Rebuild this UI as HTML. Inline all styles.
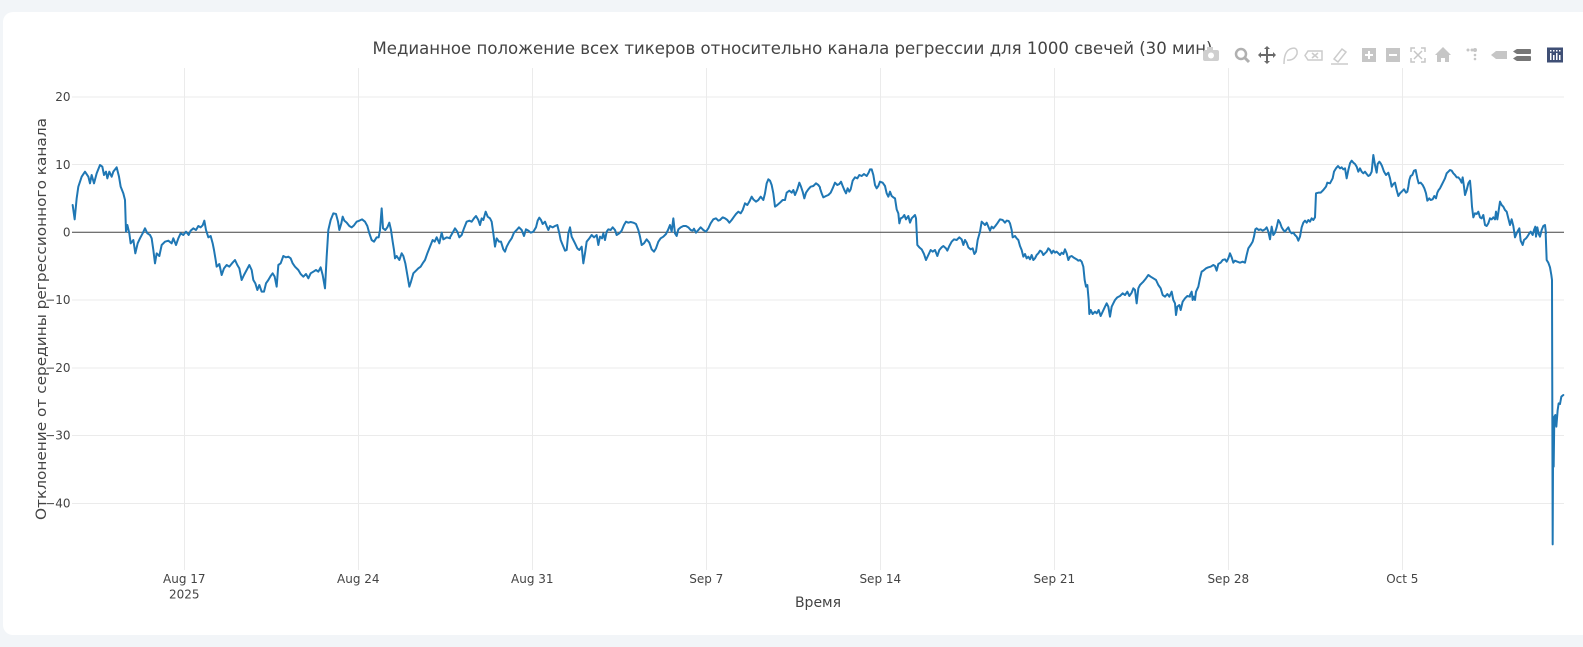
<!DOCTYPE html>
<html>
<head>
<meta charset="utf-8">
<style>
html,body{margin:0;padding:0;}
body{width:1583px;height:647px;background:#f2f5f8;position:relative;overflow:hidden;font-family:"DejaVu Sans","Liberation Sans",sans-serif;}
.card{position:absolute;left:3px;top:12px;width:1600px;height:623px;background:#fff;border-radius:10px;}
svg{position:absolute;left:0;top:0;}
</style>
</head>
<body>
<div class="card"></div>
<svg width="1583" height="647" viewBox="0 0 1583 647" xmlns="http://www.w3.org/2000/svg" font-family="DejaVu Sans, Liberation Sans, sans-serif">
  <!-- grid -->
  <g stroke="#ebebeb" stroke-width="1" shape-rendering="crispEdges">
    <line x1="184.3" y1="68" x2="184.3" y2="570"/>
    <line x1="358.3" y1="68" x2="358.3" y2="570"/>
    <line x1="532.3" y1="68" x2="532.3" y2="570"/>
    <line x1="706.3" y1="68" x2="706.3" y2="570"/>
    <line x1="880.3" y1="68" x2="880.3" y2="570"/>
    <line x1="1054.3" y1="68" x2="1054.3" y2="570"/>
    <line x1="1228.3" y1="68" x2="1228.3" y2="570"/>
    <line x1="1402.3" y1="68" x2="1402.3" y2="570"/>
    <line x1="72" y1="96.8" x2="1564" y2="96.8"/>
    <line x1="72" y1="164.6" x2="1564" y2="164.6"/>
    <line x1="72" y1="300" x2="1564" y2="300"/>
    <line x1="72" y1="367.8" x2="1564" y2="367.8"/>
    <line x1="72" y1="435.5" x2="1564" y2="435.5"/>
    <line x1="72" y1="503.3" x2="1564" y2="503.3"/>
  </g>
  <line x1="72" y1="232.3" x2="1564" y2="232.3" stroke="#444" stroke-width="1"/>

  <!-- data line -->
  <g fill="none" stroke="#1f77b4" stroke-width="2" stroke-linejoin="round" stroke-linecap="round">
    <polyline vector-effect="non-scaling-stroke" transform="translate(70,150) scale(0.333333)" points="8,165 14,208 20,145 25,110 35,80 45,65 55,80 60,100 65,75 72,100 80,70 90,45 97,50 102,75 108,65 112,85 118,65 125,80 130,65 140,52 147,80 152,110 160,130 165,150 168,245 172,225 178,250 182,280 190,270 196,310 203,280 210,265 218,250 225,235 232,250 240,255 245,265 250,300 255,340 260,310 268,318 275,285 285,275 295,272 305,280 310,265 318,285 325,265 332,250 340,255 348,245 356,255 362,242 370,235 378,240 385,228 392,232 398,226 403,212 408,240 415,262 422,258 428,280 432,300 437,330 440,350 448,342 455,375 462,355 470,345 478,350 486,340 495,330 502,345 508,355 515,390 522,375 530,360 538,345 545,360 550,390 556,400 562,420 568,405 575,425 582,425 588,400 595,390 602,378 608,370 614,380 620,410 625,345 632,340 640,318 648,322 655,320 662,325 668,340 675,350 685,360 692,372 700,380 708,372 715,385 722,370 730,365 738,360 745,365 752,352 758,375 765,415 770,320 775,240 782,210 790,190 798,192 804,215 808,240 814,220 818,200 823,212 830,218 838,228 845,232 852,226 860,215 868,212 876,208 885,215 892,228 898,250 905,270 912,275 920,262 926,262 930,240 935,175 939,235 946,240 952,232 958,218 963,240 968,275 972,300 975,325 980,318 988,330 995,310 1000,318 1006,340 1012,375 1018,410 1023,395 1030,370 1038,362 1045,355 1052,350 1058,340 1065,330 1072,310 1080,290 1088,270 1094,275 1100,262 1108,280 1115,248 1120,268 1130,262 1140,265"/>
    <polyline vector-effect="non-scaling-stroke" transform="translate(440,150) scale(0.333333)" points="30,262 38,248 45,235 52,245 58,262 65,255 72,235 80,215 88,212 95,215 102,205 108,198 115,210 120,225 125,205 130,210 137,185 143,200 150,205 155,215 160,250 165,290 170,265 177,275 183,275 190,298 195,305 200,290 208,275 215,265 222,248 230,240 237,232 245,240 252,258 258,238 265,242 272,248 280,245 288,232 293,212 298,203 303,210 308,222 315,215 320,228 325,240 330,228 338,232 345,228 352,225 358,250 362,270 368,285 375,302 380,300 385,250 390,232 395,260 400,270 405,280 412,295 418,300 425,290 430,340 435,310 440,275 448,265 455,255 462,262 470,255 475,285 480,260 486,265 490,250 495,270 500,245 505,238 512,240 518,232 525,240 530,255 538,250 545,242 552,225 558,215 565,218 572,216 580,218 588,222 595,240 600,260 605,285 612,280 620,268 628,278 635,298 642,305 648,295 655,275 662,265 670,260 678,252 684,240 690,225 695,245 700,205 705,250 710,258 715,238 722,232 730,228 738,228 745,232 752,240 758,242 762,236 768,248 775,240 782,232 790,240 798,245 805,235 812,220 820,208 828,205 835,212 840,210 848,202 855,205 862,210 868,218 875,210 882,200 888,192 895,185 902,190 908,180 915,160 922,165 928,155 935,140 940,148 948,155 955,150 962,140 970,150 975,130 980,100 985,88 990,92 995,105 1000,130 1005,170 1012,165 1020,158 1028,150 1035,150 1040,128 1048,122 1055,128 1060,120 1065,135 1072,118 1078,98 1083,110 1088,125 1093,145 1098,128 1105,118 1112,110 1120,108 1128,100 1135,105 1140,112"/>
    <polyline vector-effect="non-scaling-stroke" transform="translate(810,160) scale(0.333333)" points="30,85 35,100 40,112 48,108 55,105 62,98 68,85 75,68 82,75 88,72 93,65 98,78 103,90 108,100 113,85 118,95 122,88 128,62 135,52 142,55 148,45 155,48 162,42 170,48 176,38 180,28 185,28 190,45 195,75 200,85 205,78 210,65 218,68 225,78 230,100 235,110 240,95 245,108 250,112 255,115 260,148 265,160 268,190 272,175 278,172 283,165 288,178 295,168 300,188 305,175 310,170 315,165 318,175 322,255 328,262 335,268 342,282 348,300 355,285 362,270 368,275 375,270 382,288 388,270 395,262 400,258 408,265 412,272 418,258 425,245 432,238 440,240 448,232 455,238 460,255 465,240 470,248 475,262 482,268 488,265 493,282 498,275 503,240 510,215 515,185 520,190 525,195 530,188 535,200 540,212 545,200 550,205 556,198 562,190 570,178 578,180 585,188 590,182 596,183 600,190 605,210 608,232 615,228 620,235 625,240 630,258 635,270 640,290 645,282 650,295 655,290 660,298 665,285 670,300 675,295 680,285 685,280 690,272 695,275 700,285 705,280 710,275 715,265 720,270 725,280 730,272 735,278 740,275 745,280 750,285 755,278 760,282 765,268 770,280 775,300 780,290 785,288 790,292 795,295 800,298 805,302 810,300 815,305 820,320 824,360 828,380 832,375 836,420 838,462 842,450 848,462 855,455 860,460 866,450 872,468 878,455 885,440 890,430 895,440 900,470 905,440 910,430 915,420 922,412 930,408 938,400 945,405 952,395 958,408 965,398 970,385 975,390 980,430 985,385 990,375 995,370 1000,365 1008,355 1015,345 1022,350 1030,355 1038,360 1045,375 1052,385 1058,405 1065,410 1072,402 1078,410 1085,395 1090,420 1095,430 1098,465 1102,440 1108,435 1112,450 1118,425 1125,415 1132,408 1140,410"/>
    <polyline vector-effect="non-scaling-stroke" transform="translate(1180,140) scale(0.333333)" points="30,465 35,455 38,480 42,470 45,480 48,455 55,440 60,415 65,395 70,392 78,385 85,382 92,380 100,375 105,378 110,392 115,372 122,368 128,360 135,358 140,365 145,355 150,340 155,352 160,368 165,362 172,365 180,368 188,365 195,368 200,345 205,325 212,315 218,305 222,290 226,268 230,265 236,270 242,268 248,272 255,268 260,262 265,275 270,298 275,260 280,285 285,278 290,262 295,240 300,248 305,262 310,270 315,275 320,268 325,262 330,275 335,280 340,278 345,285 350,290 355,302 360,290 365,262 370,248 375,242 380,248 385,240 390,245 395,235 400,240 405,232 408,160 415,158 422,158 430,150 438,140 442,128 450,130 458,115 462,95 468,85 474,78 480,85 485,82 490,88 495,85 500,115 505,90 510,70 515,62 520,68 525,72 530,80 535,95 540,85 545,95 550,100 555,95 560,102 565,108 570,105 575,95 580,45 585,75 590,98 593,72 598,65 602,70 606,78 612,95 618,105 625,98 630,115 635,140 640,132 645,128 650,150 655,168 660,160 665,155 672,148 678,158 682,155 685,140 688,120 692,108 697,105 702,92 707,90 712,115 716,130 722,128 728,135 733,145 738,160 742,182 748,175 752,180 758,178 763,168 768,175 772,158 776,150 780,145 785,135 790,125 795,115 800,100 805,95 810,90 815,92 820,100 825,105 830,112 835,112 840,118 845,128 848,112 852,140 855,165 860,150 865,130 870,122 873,155 876,200 880,232 885,220 890,222 895,215 900,232 905,235 910,225 915,255 920,258 925,250 930,235 935,238 940,232 945,238 948,215 952,238 957,205 960,185 965,195 970,200 975,210 980,215 985,235 990,255 995,238 1000,258 1005,292 1010,280 1015,270 1018,265 1022,302 1028,315 1032,300 1038,295 1042,290 1048,280 1052,275 1058,285 1062,270 1066,260 1068,290 1072,262 1076,282 1080,290 1085,270 1090,258 1095,255 1098,280"/>
    <polyline vector-effect="non-scaling-stroke" transform="translate(1380,180) scale(0.333333)" points="497,160 500,240 505,248 510,262 514,285 516,300 517,700 518,1093 519,860 521,860 523,710 526,705 529,740 533,690 536,670 540,672 544,650 550,645"/>
  </g>

  <!-- y tick labels -->
  <g font-size="12" fill="#444" text-anchor="end">
    <text x="70.5" y="101">20</text>
    <text x="70.5" y="168.8">10</text>
    <text x="70.5" y="236.5">0</text>
    <text x="70.5" y="304.2">−10</text>
    <text x="70.5" y="372">−20</text>
    <text x="70.5" y="439.7">−30</text>
    <text x="70.5" y="507.5">−40</text>
  </g>
  <!-- x tick labels -->
  <g font-size="12" fill="#444" text-anchor="middle">
    <text x="184.3" y="583">Aug 17</text>
    <text x="184.3" y="598.5">2025</text>
    <text x="358.3" y="583">Aug 24</text>
    <text x="532.3" y="583">Aug 31</text>
    <text x="706.3" y="583">Sep 7</text>
    <text x="880.3" y="583">Sep 14</text>
    <text x="1054.3" y="583">Sep 21</text>
    <text x="1228.3" y="583">Sep 28</text>
    <text x="1402.3" y="583">Oct 5</text>
  </g>
  <!-- axis titles -->
  <text x="818" y="607" font-size="14" fill="#444" text-anchor="middle">Время</text>
  <text transform="translate(46,319) rotate(-90)" font-size="14" fill="#444" text-anchor="middle" textLength="402" lengthAdjust="spacingAndGlyphs">Отклонение от середины регрессионного канала</text>
  <!-- title -->
  <text x="792.5" y="54" font-size="17" fill="#444" text-anchor="middle" textLength="840" lengthAdjust="spacingAndGlyphs">Медианное положение всех тикеров относительно канала регрессии для 1000 свечей (30 мин)</text>

  <!-- modebar -->
  <g fill="#c4c4c4" stroke="none">
    <!-- camera -->
    <rect x="1203" y="50" width="16" height="11" rx="2" fill="#cfcfcf"/>
    <rect x="1207" y="47" width="6" height="4" fill="#cfcfcf"/>
    <circle cx="1211" cy="55.5" r="3" fill="#fff"/>
    <!-- zoom -->
    <circle cx="1241" cy="54" r="5" fill="none" stroke="#b0b0b0" stroke-width="2.5"/>
    <line x1="1245" y1="58" x2="1249" y2="62" stroke="#b0b0b0" stroke-width="3"/>
    <!-- pan -->
    <g stroke="#6a6a6a" stroke-width="2">
      <line x1="1259" y1="55" x2="1275" y2="55"/>
      <line x1="1267" y1="47" x2="1267" y2="63"/>
    </g>
    <polygon points="1267,46 1264,49 1270,49" fill="#6a6a6a"/>
    <polygon points="1267,64 1264,61 1270,61" fill="#6a6a6a"/>
    <polygon points="1258,55 1261,52 1261,58" fill="#6a6a6a"/>
    <polygon points="1276,55 1273,52 1273,58" fill="#6a6a6a"/>
    <!-- lasso -->
    <path d="M1284,64 Q1284,52 1290,49 Q1298,46 1297,54 Q1294,61 1287,60" fill="none" stroke="#cccccc" stroke-width="1.5"/>
    <!-- select (erase) -->
    <path d="M1308,51 L1322,51 L1322,60 L1308,60 L1305,55.5 Z" fill="none" stroke="#cccccc" stroke-width="1.5"/>
    <path d="M1312,53 L1318,58 M1318,53 L1312,58" stroke="#cccccc" stroke-width="1.5"/>
    <!-- draw -->
    <path d="M1334,59 L1342,49 L1346,52 L1338,62 Z" fill="none" stroke="#cccccc" stroke-width="1.5"/>
    <line x1="1331" y1="64" x2="1348" y2="64" stroke="#cccccc" stroke-width="1.5"/>
    <!-- plus -->
    <rect x="1362" y="48" width="14" height="14" fill="#c6c6c6"/>
    <path d="M1369,51 V59 M1365,55 H1373" stroke="#fff" stroke-width="2"/>
    <!-- minus -->
    <rect x="1386" y="48" width="14" height="14" fill="#c6c6c6"/>
    <path d="M1389,55 H1397" stroke="#fff" stroke-width="2"/>
    <!-- autoscale -->
    <path d="M1411,52 V48 H1415 M1421,48 H1425 V52 M1425,58 V62 H1421 M1415,62 H1411 V58" fill="none" stroke="#c6c6c6" stroke-width="1.5"/>
    <path d="M1414,51 L1422,59 M1422,51 L1414,59" stroke="#c6c6c6" stroke-width="1.5"/>
    <!-- home -->
    <polygon points="1443,47 1435,55 1437,55 1437,62 1441,62 1441,58 1445,58 1445,62 1449,62 1449,55 1451,55" fill="#c6c6c6"/>
    <!-- spike -->
    <circle cx="1468" cy="50" r="1.5" fill="#c6c6c6"/>
    <circle cx="1472" cy="50" r="1.5" fill="#c6c6c6"/>
    <circle cx="1475" cy="50" r="2" fill="#c6c6c6"/>
    <circle cx="1475" cy="55" r="1.3" fill="#c6c6c6"/>
    <circle cx="1475" cy="59" r="1.3" fill="#c6c6c6"/>
    <!-- hover closest -->
    <polygon points="1491,55 1496,51 1507,51 1507,59 1496,59" fill="#c6c6c6"/>
    <!-- hover compare -->
    <rect x="1516" y="49" width="15" height="5" rx="1" fill="#777"/>
    <rect x="1516" y="56" width="15" height="5" rx="1" fill="#777"/>
    <polygon points="1513,51.5 1516,49.5 1516,53.5" fill="#777"/>
    <polygon points="1513,58.5 1516,56.5 1516,60.5" fill="#777"/>
    <!-- plotly logo -->
    <rect x="1547" y="47.5" width="16" height="15" fill="#3f4f75"/>
    <g fill="#fff">
      <rect x="1550" y="50" width="1.5" height="1.5"/>
      <rect x="1553" y="50" width="1.5" height="1.5"/>
      <rect x="1556" y="50" width="1.5" height="1.5"/>
      <rect x="1559" y="50" width="1.5" height="1.5"/>
      <rect x="1550" y="53" width="1.5" height="7"/>
      <rect x="1553" y="55" width="1.5" height="5"/>
      <rect x="1556" y="53" width="1.5" height="7"/>
      <rect x="1559" y="55" width="1.5" height="5"/>
    </g>
  </g>
</svg>
</body>
</html>
